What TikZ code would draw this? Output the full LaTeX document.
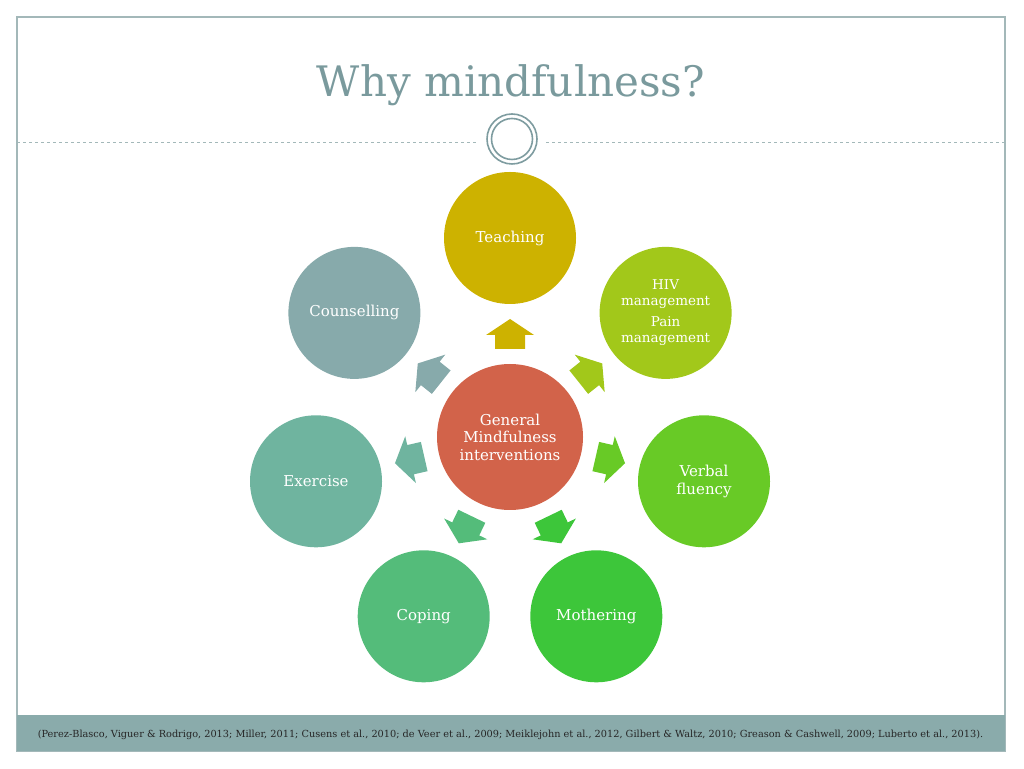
\documentclass[tikz,border=0pt]{standalone}
\usepackage{fontspec}
\setmainfont{DejaVu Serif}
\definecolor{framegray}{HTML}{A3B8B9}
\definecolor{titlegray}{HTML}{7A9A9D}
\definecolor{ringgray}{HTML}{7E9CA0}
\definecolor{footbar}{HTML}{8AABAB}
\definecolor{centre}{HTML}{D2634A}
\definecolor{teach}{HTML}{CDB200}
\definecolor{hiv}{HTML}{A2C81A}
\definecolor{verbal}{HTML}{68CA26}
\definecolor{mother}{HTML}{3DC63A}
\definecolor{cope}{HTML}{54BC7A}
\definecolor{exer}{HTML}{6FB49F}
\definecolor{counsel}{HTML}{87AAAB}
\tikzset{
spoke/.style={circle, minimum size=132pt, inner sep=0pt, text=white,
  align=center, font=\fontsize{15}{17.5}\selectfont},
outarrow/.pic={
  \fill[#1] (-15,-15) -- (-1,-15) -- (-1,-24) -- (15,0) --
        (-1,24) -- (-1,15) -- (-15,15) -- cycle;
  }
}
\begin{document}
\begin{tikzpicture}[x=1pt,y=1pt]
\useasboundingbox (0,0) rectangle (1024,768);
\draw[framegray, line width=1.3] (17,17) rectangle (1005,751);
\node[font=\fontsize{42}{46}\selectfont, text=titlegray, anchor=base] (title) at (511,671) {Why mindfulness?};
% rule under the title
\draw[framegray, dashed] (17,626) -- (477,626);
\draw[framegray, dashed] (546,626) -- (1005,626);
\draw[ringgray, line width=1.6, fill=white] (512,629) circle [radius=25];
\draw[ringgray, line width=1.6] (512,629) circle [radius=20.5];
% circles
\node[spoke, minimum size=146pt, fill=centre] (general) at (510,331) {General\\Mindfulness\\interventions};
\node[spoke, fill=teach] (teaching) at (510,530) {Teaching};
\node[spoke, fill=hiv, font=\fontsize{13.5}{16}\selectfont] (hivpain) at (665.6,455.1) {HIV\\management\\[5pt]Pain\\management};
\node[spoke, fill=verbal] (fluency) at (704,286.7) {Verbal\\fluency};
\node[spoke, fill=mother] (mothering) at (596.3,151.7) {Mothering};
\node[spoke, fill=cope] (coping) at (423.7,151.7) {Coping};
\node[spoke, fill=exer] (exercise) at (316,286.7) {Exercise};
\node[spoke, fill=counsel] (counselling) at (354.4,455.1) {Counselling};
% arrows
\pic[rotate=90] at (510,434) {outarrow=teach};
\pic[rotate=38.57] at (590.5,395.2) {outarrow=hiv};
\pic[rotate=-12.86] at (610.4,308.1) {outarrow=verbal};
\pic[rotate=-64.29] at (554.7,238.2) {outarrow=mother};
\pic[rotate=-115.71] at (465.3,238.2) {outarrow=cope};
\pic[rotate=192.86] at (409.6,308.1) {outarrow=exer};
\pic[rotate=141.43] at (429.5,395.2) {outarrow=counsel};
% footer
\fill[footbar] (17,17) rectangle (1005,53);
\node[font=\fontsize{9.75}{11}\selectfont, text=black!85, anchor=base] (refs) at (510.5,31) {(Perez-Blasco, Viguer \& Rodrigo, 2013; Miller, 2011; Cusens et al., 2010; de Veer et al., 2009; Meiklejohn et al., 2012, Gilbert \& Waltz, 2010; Greason \& Cashwell, 2009; Luberto et al., 2013).};
\end{tikzpicture}
\end{document}
